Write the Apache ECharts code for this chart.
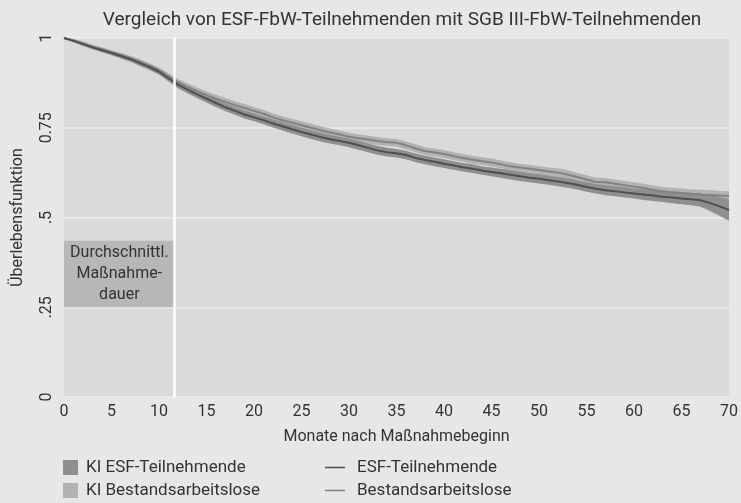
<!DOCTYPE html>
<html>
<head>
<meta charset="utf-8">
<script src="https://cdn.jsdelivr.net/npm/echarts@6/dist/echarts.min.js"></script>
<style>
  html, body { margin: 0; padding: 0; background: #e6e7e8; }
  #myChart { width: 741px; height: 503px; }
</style>
</head>
<body>
<div id="myChart"></div>
<script>
// Monate 0..70
var months = [];
for (var i = 0; i <= 70; i++) months.push(i);

// Überlebensfunktion ESF-Teilnehmende
var esfValues = [
  1.000, 0.992, 0.983, 0.974, 0.966, 0.958, 0.950, 0.941, 0.930, 0.919,
  0.906, 0.888, 0.870, 0.856, 0.843, 0.831, 0.819, 0.807, 0.797, 0.787,
  0.779, 0.771, 0.762, 0.754, 0.746, 0.738, 0.731, 0.724, 0.718, 0.713,
  0.708, 0.701, 0.694, 0.687, 0.682, 0.679, 0.674, 0.666, 0.660, 0.655,
  0.650, 0.645, 0.640, 0.636, 0.631, 0.627, 0.623, 0.619, 0.615, 0.611,
  0.608, 0.604, 0.600, 0.596, 0.591, 0.585, 0.580, 0.576, 0.573, 0.570,
  0.567, 0.564, 0.561, 0.558, 0.556, 0.553, 0.551, 0.548, 0.540, 0.531,
  0.521
];
// halbe Breite KI ESF
var esfCi = [
  0.002, 0.004, 0.005, 0.005, 0.006, 0.006, 0.007, 0.007, 0.008, 0.008,
  0.008, 0.009, 0.010, 0.010, 0.010, 0.011, 0.011, 0.011, 0.011, 0.011,
  0.011, 0.011, 0.011, 0.012, 0.012, 0.012, 0.012, 0.012, 0.012, 0.012,
  0.012, 0.012, 0.012, 0.012, 0.012, 0.012, 0.012, 0.012, 0.012, 0.012,
  0.012, 0.012, 0.012, 0.012, 0.012, 0.012, 0.013, 0.013, 0.013, 0.013,
  0.013, 0.013, 0.013, 0.013, 0.013, 0.013, 0.013, 0.014, 0.014, 0.014,
  0.014, 0.015, 0.015, 0.015, 0.016, 0.016, 0.017, 0.018, 0.022, 0.026,
  0.030
];
// Überlebensfunktion Bestandsarbeitslose
var bestValues = [
  1.000, 0.993, 0.985, 0.976, 0.968, 0.960, 0.951, 0.943, 0.933, 0.922,
  0.910, 0.893, 0.876, 0.864, 0.852, 0.841, 0.831, 0.822, 0.813, 0.805,
  0.797, 0.789, 0.779, 0.771, 0.764, 0.757, 0.750, 0.743, 0.737, 0.731,
  0.725, 0.721, 0.717, 0.713, 0.710, 0.708, 0.701, 0.693, 0.685, 0.681,
  0.677, 0.671, 0.666, 0.661, 0.657, 0.653, 0.648, 0.643, 0.639, 0.636,
  0.632, 0.628, 0.625, 0.620, 0.613, 0.606, 0.599, 0.598, 0.594, 0.590,
  0.586, 0.582, 0.577, 0.573, 0.570, 0.568, 0.566, 0.564, 0.563, 0.561,
  0.560
];
// halbe Breite KI Bestandsarbeitslose
var bestCi = [
  0.002, 0.004, 0.005, 0.005, 0.006, 0.006, 0.007, 0.007, 0.008, 0.008,
  0.008, 0.009, 0.010, 0.010, 0.010, 0.010, 0.011, 0.011, 0.011, 0.011,
  0.011, 0.011, 0.011, 0.011, 0.011, 0.011, 0.011, 0.011, 0.011, 0.011,
  0.011, 0.011, 0.011, 0.011, 0.011, 0.011, 0.011, 0.011, 0.011, 0.011,
  0.011, 0.011, 0.011, 0.011, 0.011, 0.011, 0.011, 0.011, 0.011, 0.011,
  0.011, 0.011, 0.012, 0.012, 0.012, 0.012, 0.012, 0.012, 0.012, 0.012,
  0.012, 0.012, 0.012, 0.012, 0.013, 0.013, 0.013, 0.013, 0.013, 0.013,
  0.013
];
var yTicks = [0, 0.25, 0.5, 0.75, 1];
var yTickLabels = ["0", ".25", ".5", "0.75", "1"];
var avgDuration = 11.65; // durchschnittliche Maßnahmedauer (Monate)
var boxRange = [0.25, 0.435];

var fontFamily = "Roboto, sans-serif";
var textColor = "#333333";

function pairs(vals) {
  return months.map(function (m, i) { return [m, vals[i]]; });
}
function lower(vals, ci) {
  return vals.map(function (v, i) { return +(v - ci[i]).toFixed(4); });
}
function width(ci) {
  return ci.map(function (c) { return +(2 * c).toFixed(4); });
}

var myChart = echarts.init(document.getElementById("myChart"));

var bandBase = {
  type: "line",
  xAxisIndex: 1,
  symbol: "none",
  lineStyle: { opacity: 0 },
  silent: true
};

function legendAt(left, top, name, w, h, textPad) {
  return {
    left: left, top: top, orient: "horizontal", icon: "rect",
    itemWidth: w, itemHeight: h, selectedMode: false,
    textStyle: {
      fontFamily: fontFamily, fontSize: 17, color: textColor,
      padding: [0, 0, 0, textPad]
    },
    data: [name]
  };
}

myChart.setOption({
  backgroundColor: "#e6e7e8",
  animation: false,
  textStyle: { fontFamily: fontFamily },
  title: {
    text: "Vergleich von ESF-FbW-Teilnehmenden mit SGB III-FbW-Teilnehmenden",
    left: 397,
    top: 6,
    textAlign: "center",
    textStyle: { fontFamily: fontFamily, fontSize: 19, fontWeight: "normal", color: textColor }
  },
  grid: {
    left: 64, right: 11, top: 38, bottom: 106,
    show: true, backgroundColor: "#d9dadc", borderWidth: 0
  },
  legend: [
    legendAt(58, 454, "KI ESF-Teilnehmende", 15, 15, 3),
    legendAt(58, 477, "KI Bestandsarbeitslose", 15, 15, 3),
    legendAt(320, 454, "ESF-Teilnehmende", 20, 1.5, 7),
    legendAt(320, 477, "Bestandsarbeitslose", 20, 1.5, 7)
  ],
  xAxis: [
    {
      type: "value", min: 0, max: 70, interval: 5,
      name: "Monate nach Maßnahmebeginn",
      nameLocation: "middle", nameGap: 32,
      nameTextStyle: { fontFamily: fontFamily, fontSize: 16, color: textColor },
      axisLine: { show: true, lineStyle: { color: "#ececee", width: 1.5 } },
      axisTick: { show: false },
      splitLine: { show: false },
      axisLabel: { margin: 7, fontSize: 16, color: textColor, fontFamily: fontFamily }
    },
    {
      type: "category", data: months, boundaryGap: false, show: false
    }
  ],
  yAxis: {
    type: "value", min: 0, max: 1, interval: 0.25,
    name: "Überlebensfunktion",
    nameLocation: "middle", nameGap: 38,
    nameTextStyle: { fontFamily: fontFamily, fontSize: 16, color: textColor },
    axisLine: { show: false },
    axisTick: { show: false },
    splitLine: { show: true, lineStyle: { color: "#ececee", width: 1.5 } },
    axisLabel: {
      rotate: 90, margin: 9, fontSize: 16, color: textColor, fontFamily: fontFamily,
      formatter: function (v) {
        var idx = yTicks.indexOf(v);
        return idx >= 0 ? yTickLabels[idx] : "";
      }
    }
  },
  series: [
    // KI Bestandsarbeitslose: Untergrenze + Breite gestapelt
    Object.assign({}, bandBase, {
      name: "bestLo", stack: "best", data: lower(bestValues, bestCi)
    }),
    Object.assign({}, bandBase, {
      name: "KI Bestandsarbeitslose", stack: "best", data: width(bestCi),
      itemStyle: { color: "#b1b2b4" },
      areaStyle: { color: "#b1b2b4", opacity: 1 }
    }),
    // KI ESF-Teilnehmende
    Object.assign({}, bandBase, {
      name: "esfLo", stack: "esf", data: lower(esfValues, esfCi)
    }),
    Object.assign({}, bandBase, {
      name: "KI ESF-Teilnehmende", stack: "esf", data: width(esfCi),
      itemStyle: { color: "#8f8f91" },
      areaStyle: { color: "#8f8f91", opacity: 1 }
    }),
    {
      name: "Bestandsarbeitslose", type: "line", symbol: "none",
      data: pairs(bestValues),
      itemStyle: { color: "#828284" },
      lineStyle: { color: "#828284", width: 2 },
      markArea: {
        silent: true,
        itemStyle: { color: "#b6b7b9" },
        label: {
          show: true, position: "inside", color: textColor,
          fontFamily: fontFamily, fontSize: 16, lineHeight: 21,
          formatter: "Durchschnittl.\nMaßnahme-\ndauer"
        },
        data: [[{ xAxis: 0, yAxis: boxRange[0] }, { xAxis: avgDuration, yAxis: boxRange[1] }]]
      },
      markLine: {
        silent: true, symbol: "none", label: { show: false },
        lineStyle: { color: "#ffffff", width: 2.5, type: "solid" },
        data: [{ xAxis: avgDuration }]
      }
    },
    {
      name: "ESF-Teilnehmende", type: "line", symbol: "none",
      data: pairs(esfValues),
      itemStyle: { color: "#4f4f51" },
      lineStyle: { color: "#4f4f51", width: 2 }
    }
  ]
});
</script>
</body>
</html>
